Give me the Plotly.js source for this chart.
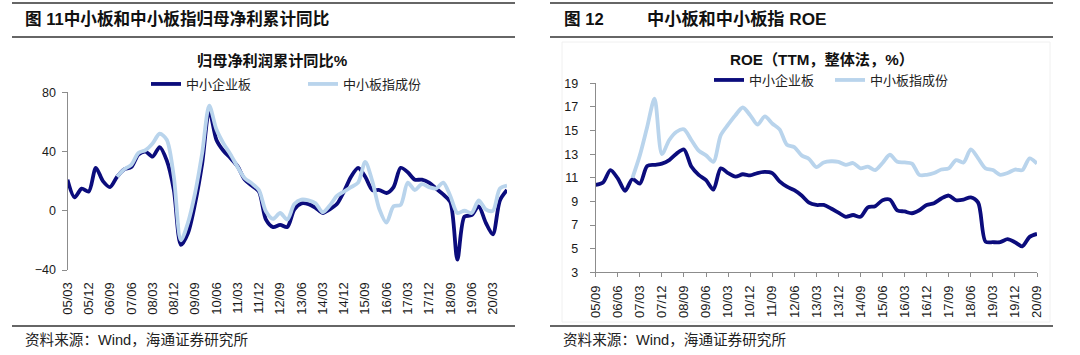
<!DOCTYPE html>
<html><head><meta charset="utf-8">
<script src="https://cdn.plot.ly/plotly-3.0.1.min.js"></script>
<style>html,body{margin:0;padding:0;background:#fff}#c{width:1080px;height:355px}</style>
</head><body><div id="c"></div>
<script>
// ---------- Data: 图11 归母净利润累计同比 (%) quarterly ----------
var quarters1 = ['05/03','05/06','05/09','05/12','06/03','06/06','06/09','06/12','07/03','07/06','07/09','07/12','08/03','08/06','08/09','08/12','09/03','09/06','09/09','09/12','10/03','10/06','10/09','10/12','11/03','11/06','11/09','11/12','12/03','12/06','12/09','12/12','13/03','13/06','13/09','13/12','14/03','14/06','14/09','14/12','15/03','15/06','15/09','15/12','16/03','16/06','16/09','16/12','17/03','17/06','17/09','17/12','18/03','18/06','18/09','18/12','19/03','19/06','19/09','19/12','20/03','20/06','20/09'];
var tickLabels1 = ['05/03','05/12','06/09','07/06','08/03','08/12','09/09','10/06','11/03','11/12','12/09','13/06','14/03','14/12','15/09','16/06','17/03','17/12','18/09','19/06','20/03'];
var smeBoardProfit = [21,9,15,13,29,20,16,23,28,29.5,38,40,36.5,43,34,14,-23,-15,5,32,68,48,40.5,35.5,30,21,17,13,-6,-11,-9.5,-11,1,5,4.5,2,-1.5,1,4.5,13,23,29,23,14,14,12,16,29,26,21,21,19,15,11,6,-33,-4,-3,3,-8,-16,7,14];
var smeIndexProfit = [null,null,null,null,null,null,null,23,28,31,39,41,45.5,52,48,23,-20,-8,12,39,71,55,45.5,38,29.5,22,18.5,14,-0.5,-5.5,-1.5,-6,4.5,7.5,7,5,-1,3.5,10,13,16,19,33,20,1,-8,3,4,19,14,18,16,15,19,10,-1.5,0,-1.5,7,1,0,15,17];

// ---------- Data: 图12 ROE (TTM, 整体法, %) quarterly ----------
var quarters2 = ['05/09','05/12','06/03','06/06','06/09','06/12','07/03','07/06','07/09','07/12','08/03','08/06','08/09','08/12','09/03','09/06','09/09','09/12','10/03','10/06','10/09','10/12','11/03','11/06','11/09','11/12','12/03','12/06','12/09','12/12','13/03','13/06','13/09','13/12','14/03','14/06','14/09','14/12','15/03','15/06','15/09','15/12','16/03','16/06','16/09','16/12','17/03','17/06','17/09','17/12','18/03','18/06','18/09','18/12','19/03','19/06','19/09','19/12','20/03','20/06','20/09'];
var tickLabels2 = ['05/09','06/06','07/03','07/12','08/09','09/06','10/03','10/12','11/09','12/06','13/03','13/12','14/09','15/06','16/03','16/12','17/09','18/06','19/03','19/12','20/09'];
var smeBoardROE = [10.4,10.6,11.65,10.95,9.9,10.9,10.5,12.0,12.1,12.2,12.5,13.05,13.4,11.95,11.25,10.8,10.0,11.8,11.4,11.1,11.3,11.2,11.4,11.5,11.4,10.7,10.25,9.95,9.5,8.9,8.7,8.7,8.4,8.05,7.7,7.85,7.7,8.5,8.6,9.1,9.15,8.25,8.15,8.0,8.25,8.7,8.85,9.25,9.5,9.1,9.15,9.35,8.9,5.6,5.55,5.55,5.8,5.55,5.2,6.0,6.25];
var smeIndexROE = [null,null,null,null,null,11.0,12.9,15.3,17.7,13.0,14.2,14.9,15.1,14.2,13.3,12.9,12.35,14.6,15.5,16.3,16.95,16.3,15.5,16.2,15.6,15.1,13.8,13.6,12.9,12.6,11.9,12.3,12.4,12.35,12.1,12.25,11.8,11.95,11.65,12.25,12.95,12.35,12.3,12.2,11.25,11.25,11.4,11.7,11.8,12.5,12.3,13.4,12.65,11.8,11.65,11.25,11.4,11.7,11.65,12.65,12.2];

var seriesNames = ['中小企业板','中小板指成份'];
var yTicks1 = [-40,0,40,80];
var yTicks2 = [3,5,7,9,11,13,15,17,19];

// ---------- Layout geometry (pixels -> paper) ----------
var W = 1080, H = 355;
function px(x){return x/W;} function py(y){return 1-y/H;}
var DARK = '#0b0c7c', LIGHT = '#b9d4ec', AXIS = '#8c8c8c', TXT = '#1a1a1a';
var FONT = 'Liberation Sans, Arial, Noto Sans CJK SC, sans-serif';
var CJK = 'Noto Sans CJK SC, sans-serif';

var y1dom = [py(270), py(92.3)];
var y1range = [-40, 80];
var zeroPos = y1dom[0] + (0 - y1range[0])/(y1range[1]-y1range[0])*(y1dom[1]-y1dom[0]);

var traces = [
  {x: quarters1, y: smeBoardProfit, name: seriesNames[0], type:'scatter', mode:'lines', xaxis:'x', yaxis:'y', legend:'legend',
   line:{color:DARK, width:3.8, shape:'spline', smoothing:0.8}},
  {x: quarters1, y: smeIndexProfit, name: seriesNames[1], type:'scatter', mode:'lines', xaxis:'x', yaxis:'y', legend:'legend',
   line:{color:LIGHT, width:3.8, shape:'spline', smoothing:0.8}},
  {x: quarters2, y: smeBoardROE, name: seriesNames[0], type:'scatter', mode:'lines', xaxis:'x2', yaxis:'y2', legend:'legend2',
   line:{color:DARK, width:3.8, shape:'spline', smoothing:0.8}},
  {x: quarters2, y: smeIndexROE, name: seriesNames[1], type:'scatter', mode:'lines', xaxis:'x2', yaxis:'y2', legend:'legend2',
   line:{color:LIGHT, width:3.8, shape:'spline', smoothing:0.8}}
];

var tickFont = {family: FONT, size: 13, color: TXT};
var layout = {
  width: W, height: H, margin:{l:0,r:0,t:0,b:0},
  paper_bgcolor:'#fff', plot_bgcolor:'rgba(0,0,0,0)',
  showlegend: true,
  xaxis: {domain:[px(67.5), px(507)], anchor:'y', type:'category', range:[0, quarters1.length-1],
    showline:false, showgrid:false, zeroline:false, tickmode:'array', tickvals: tickLabels1, ticktext: tickLabels1,
    tickangle:-90, ticks:'outside', ticklen:6, tickcolor:'rgba(0,0,0,0)', tickfont: tickFont, automargin:false},
  xaxis3: {overlaying:'x', anchor:'free', position: zeroPos, type:'linear', range:[0, quarters1.length-1],
    showline:true, linecolor:AXIS, linewidth:1, showgrid:false, zeroline:false,
    tickmode:'array', tickvals: tickLabels1.map(function(t){return quarters1.indexOf(t);}),
    ticks:'outside', ticklen:3, tickcolor:AXIS, showticklabels:false, automargin:false},
  yaxis: {domain: y1dom, anchor:'x', range: y1range, tickvals: yTicks1, showline:true, linecolor:AXIS, linewidth:1,
    ticks:'outside', ticklen:5, tickcolor:AXIS, showgrid:false, zeroline:false, tickfont:{family:FONT,size:12.5,color:TXT},
    ticklabelstandoff:3, automargin:false},
  xaxis2: {domain:[px(595.7), px(1037)], anchor:'y2', type:'category', range:[0, quarters2.length-1],
    showline:true, linecolor:AXIS, linewidth:1, showgrid:false, zeroline:false, tickmode:'array', tickvals: tickLabels2, ticktext: tickLabels2,
    tickangle:-90, ticks:'outside', ticklen:4, tickcolor:AXIS, ticklabelstandoff:3, tickfont: tickFont, automargin:false},
  yaxis2: {domain:[py(272.3), py(83.3)], anchor:'x2', range:[3,19], tickvals: yTicks2, showline:true, linecolor:AXIS, linewidth:1,
    ticks:'outside', ticklen:5, tickcolor:AXIS, showgrid:false, zeroline:false, tickfont:{family:FONT,size:12.5,color:TXT},
    ticklabelstandoff:9, automargin:false},
  legend: {orientation:'h', x:px(146), xanchor:'left', y:py(84), yanchor:'middle', bgcolor:'rgba(0,0,0,0)',
    font:{family:CJK, size:13, color:'#222'}, entrywidth:112, entrywidthmode:'pixels', itemclick:false},
  legend2: {orientation:'h', x:px(709), xanchor:'left', y:py(80), yanchor:'middle', bgcolor:'rgba(0,0,0,0)',
    font:{family:CJK, size:13, color:'#222'}, entrywidth:76, entrywidthmode:'pixels', itemclick:false},
  shapes: [
    {type:'line', xref:'paper', yref:'paper', x0:px(12), x1:px(515), y0:py(3), y1:py(3), line:{color:'#333', width:1.5}},
    {type:'line', xref:'paper', yref:'paper', x0:px(12), x1:px(515), y0:py(37), y1:py(37), line:{color:'#333', width:1.5}},
    {type:'line', xref:'paper', yref:'paper', x0:px(12), x1:px(515), y0:py(326), y1:py(326), line:{color:'#333', width:1.5}},
    {type:'line', xref:'paper', yref:'paper', x0:px(550), x1:px(1053), y0:py(3), y1:py(3), line:{color:'#333', width:1.5}},
    {type:'line', xref:'paper', yref:'paper', x0:px(550), x1:px(1053), y0:py(37), y1:py(37), line:{color:'#333', width:1.5}},
    {type:'line', xref:'paper', yref:'paper', x0:px(550), x1:px(1053), y0:py(326), y1:py(326), line:{color:'#333', width:1.5}},
    {type:'rect', xref:'paper', yref:'paper', x0:px(562), x1:px(1050), y0:py(322), y1:py(42), line:{color:'#f0f0f0', width:1}, layer:'below'}
  ],
  annotations: [
    {text:'<b>图 11中小板和中小板指归母净利累计同比</b>', xref:'paper', yref:'paper', x:px(23), y:py(19), xanchor:'left', yanchor:'middle', showarrow:false,
     font:{family:FONT, size:16.6, color:'#111'}},
    {text:'<b>图 12</b>', xref:'paper', yref:'paper', x:px(562), y:py(19), xanchor:'left', yanchor:'middle', showarrow:false,
     font:{family:FONT, size:16.6, color:'#111'}},
    {text:'<b>中小板和中小板指 ROE</b>', xref:'paper', yref:'paper', x:px(645), y:py(19), xanchor:'left', yanchor:'middle', showarrow:false,
     font:{family:FONT, size:17.2, color:'#111'}},
    {text:'<b>归母净利润累计同比%</b>', xref:'paper', yref:'paper', x:px(272), y:py(60), xanchor:'center', yanchor:'middle', showarrow:false,
     font:{family:FONT, size:15.2, color:'#111'}},
    {text:'<b>ROE（TTM，整体法，%）</b>', xref:'paper', yref:'paper', x:px(822), y:py(59), xanchor:'center', yanchor:'middle', showarrow:false,
     font:{family:FONT, size:15.2, color:'#111'}},
    {text:'资料来源：Wind，海通证券研究所', xref:'paper', yref:'paper', x:px(23), y:py(340), xanchor:'left', yanchor:'middle', showarrow:false,
     font:{family:FONT, size:14.6, color:'#222'}},
    {text:'资料来源：Wind，海通证券研究所', xref:'paper', yref:'paper', x:px(561), y:py(340), xanchor:'left', yanchor:'middle', showarrow:false,
     font:{family:FONT, size:14.6, color:'#222'}}
  ]
};
Plotly.newPlot('c', traces, layout, {staticPlot:true, displayModeBar:false});
</script></body></html>
